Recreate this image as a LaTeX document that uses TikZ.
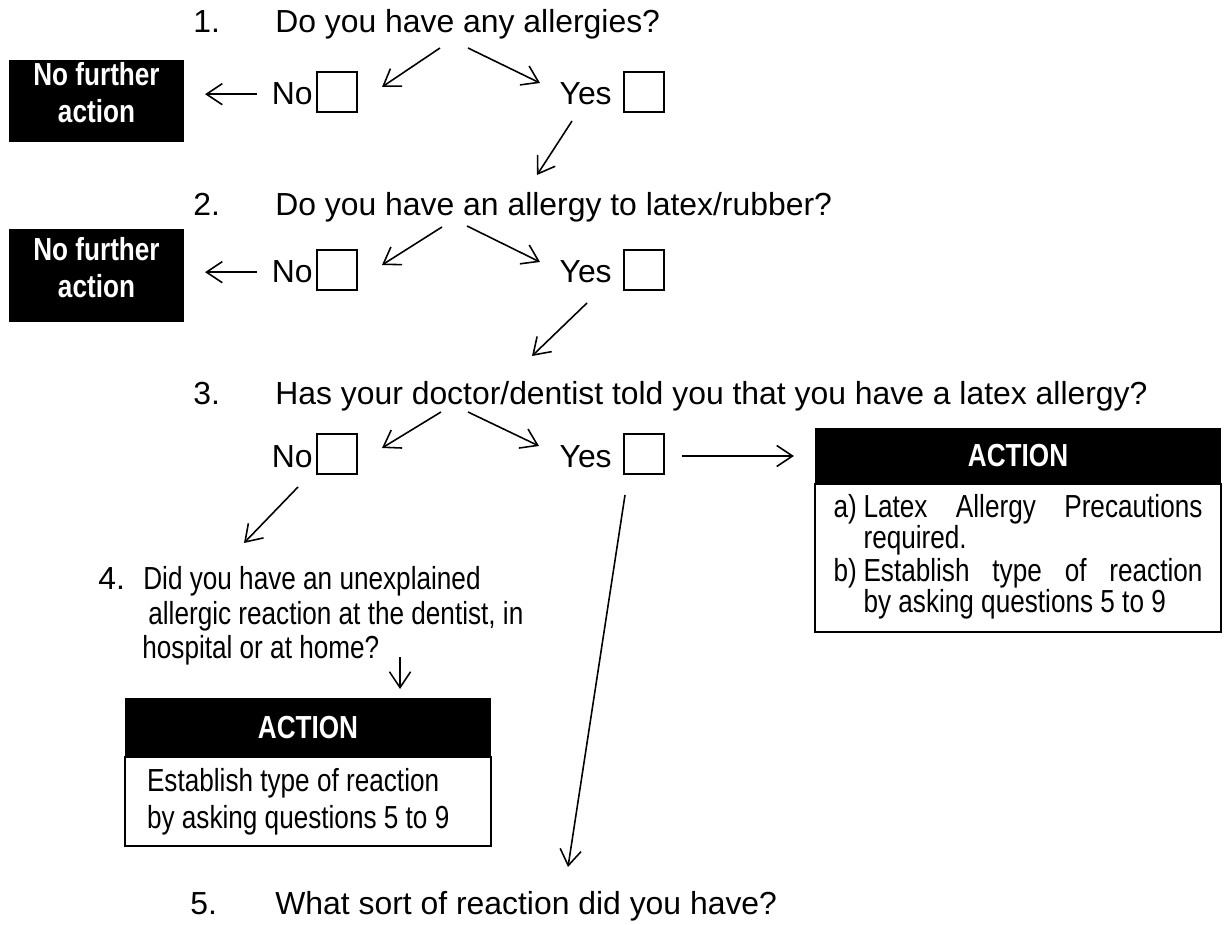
\documentclass[tikz,border=0pt]{standalone}
\usepackage{fontspec}
\setmainfont{Liberation Sans}
\newfontfamily\narrowfont{Liberation Sans}[FakeStretch=0.82]
\usetikzlibrary{arrows.meta,positioning}
\hyphenpenalty=10000
\exhyphenpenalty=10000

\tikzset{
  question/.style={anchor=base west, inner sep=0pt, font=\fontsize{18.15}{21}\selectfont},
  narrowtext/.style={anchor=base west, inner sep=0pt, font=\narrowfont\fontsize{18.15}{21}\selectfont},
  tickbox/.style={draw, line width=0.8pt, minimum size=0.8cm, inner sep=0pt},
  flow/.style={line width=0.9pt, -{Straight Barb[length=9pt,width=12pt]}},
  blackbox/.style={fill=black, text=white, align=center, inner sep=0pt, outer sep=0pt,
    font=\narrowfont\bfseries\fontsize{18.15}{21}\selectfont},
  actbody/.style={draw, line width=0.8pt, inner sep=0pt, outer sep=0pt}
}

\begin{document}
\begin{tikzpicture}[x=0.02cm, y=-0.02cm]
    \useasboundingbox (0,0) rectangle (1226,925);

    % Question 1
    \node[question] (num1) at (193,33) {1.};
    \node[question] (q1) at (275,33) {Do you have any allergies?};

    % Answers to question 1
    \node[question, anchor=base east] (no1) at (313,105) {No};
    \node[tickbox] (boxno1) at (337,92) {};
    \node[question, anchor=base east] (yes1) at (612,105) {Yes};
    \node[tickbox] (boxyes1) at (644,92) {};
    \node[blackbox, minimum width=3.5cm, minimum height=1.64cm] (stop1) at (96.5,101)
        {No further\\action\rule[-0.34cm]{0pt}{0pt}};

    % Arrow ends for question 1
    \coordinate (A1) at (440,48);
    \coordinate (B1) at (382,87);
    \coordinate (C1) at (468,48);
    \coordinate (D1) at (540,83);
    \coordinate (E1) at (572,121);
    \coordinate (F1) at (537,175);

    \draw[flow] (A1) -- (B1);
    \draw[flow] (C1) -- (D1);
    \draw[flow] (E1) -- (F1);
    \draw[flow, shorten <=8.5pt, shorten >=12pt] (no1.west) -- (stop1.east |- no1.west);

    % Question 2
    \node[question] (num2) at (193,216) {2.};
    \node[question] (q2) at (275,216) {Do you have an allergy to latex/rubber?};

    % Answers to question 2
    \node[question, anchor=base east] (no2) at (313,283) {No};
    \node[tickbox] (boxno2) at (337,270) {};
    \node[question, anchor=base east] (yes2) at (612,283) {Yes};
    \node[tickbox] (boxyes2) at (644,270) {};
    \node[blackbox, minimum width=3.5cm, minimum height=1.86cm] (stop2) at (96.5,275.5)
        {No further\\action\rule[-0.34cm]{0pt}{0pt}};

    % Arrow ends for question 2
    \coordinate (A2) at (442,227);
    \coordinate (B2) at (382,265);
    \coordinate (C2) at (467,226);
    \coordinate (D2) at (540,262);
    \coordinate (E2) at (587,303);
    \coordinate (F2) at (532,356);

    \draw[flow] (A2) -- (B2);
    \draw[flow] (C2) -- (D2);
    \draw[flow] (E2) -- (F2);
    \draw[flow, shorten <=8.5pt, shorten >=12pt] (no2.west) -- (stop2.east |- no2.west);

    % Question 3
    \node[question] (num3) at (193,404) {3.};
    \node[question] (q3) at (275,404) {Has your doctor/dentist told you that you have a latex allergy?};

    % Answers to question 3
    \node[question, anchor=base east] (no3) at (313,467) {No};
    \node[tickbox] (boxno3) at (337,454) {};
    \node[question, anchor=base east] (yes3) at (612,467) {Yes};
    \node[tickbox] (boxyes3) at (644,454) {};

    % Action box for a known latex allergy
    \node[blackbox, minimum width=8.12cm, minimum height=1.12cm] (act3) at (1018,456) {ACTION};
    \node[actbody, below=0pt of act3, minimum width=8.12cm, minimum height=2.96cm,
        font=\narrowfont\fontsize{18.15}{17.6}\selectfont] (act3body)
        {\begin{tabular}{@{}p{0.6cm}@{}p{6.78cm}@{}}
          a) & Latex Allergy Precautions required.\\
          b) & Establish type of reaction\linebreak by asking questions 5 to 9
        \end{tabular}};

    % Arrow ends for question 3
    \coordinate (A3) at (441,412);
    \coordinate (B3) at (382,448);
    \coordinate (C3) at (468,412);
    \coordinate (D3) at (539,446);
    \coordinate (E3) at (298,487);
    \coordinate (F3) at (244,543);
    \coordinate (G3) at (625,495);
    \coordinate (H3) at (568,867);

    \draw[flow] (A3) -- (B3);
    \draw[flow] (C3) -- (D3);
    \draw[flow] (E3) -- (F3);
    \draw[flow] (G3) -- (H3);
    \draw[flow, shorten <=10pt, shorten >=12pt] (boxyes3.east |- act3.west) -- (act3.west);

    % Question 4
    \node[question] (num4) at (98,589) {4.};
    \node[narrowtext] (q4a) at (143,589) {Did you have an unexplained};
    \node[narrowtext] (q4b) at (148,624) {allergic reaction at the dentist, in};
    \node[narrowtext] (q4c) at (142,658) {hospital or at home?};

    % Action box after question 4
    \node[blackbox, minimum width=7.32cm, minimum height=1.18cm] (act4) at (308,727.5) {ACTION};
    \node[actbody, below=0pt of act4, minimum width=7.32cm, minimum height=1.78cm,
        text width=6.44cm, inner xsep=0.44cm, align=flush left,
        font=\narrowfont\fontsize{18.15}{21}\selectfont] (act4body)
        {Establish type of reaction\\by asking questions 5 to 9};

    \coordinate (A4) at (400,657);
    \coordinate (B4) at (400,689);
    \draw[flow] (A4) -- (B4);

    % Question 5
    \node[question] (num5) at (190,914) {5.};
    \node[question] (q5) at (275,914) {What sort of reaction did you have?};

\end{tikzpicture}
\end{document}
